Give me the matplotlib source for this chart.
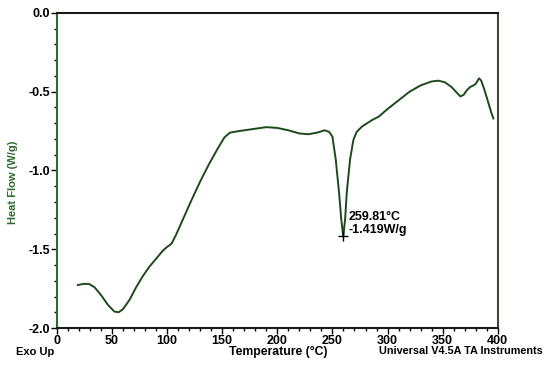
import numpy as np
import matplotlib.pyplot as plt
from matplotlib.ticker import MultipleLocator

plt.rcParams['font.family'] = ['Liberation Sans', 'DejaVu Sans']
plt.rcParams['font.weight'] = 'bold'

# DSC curve
temp = [19, 24, 29, 34, 40, 46, 52, 56, 60, 66, 72, 78, 84, 90, 96, 100, 104,
        108, 115, 122, 130, 138, 146, 152, 157, 165, 175, 190, 200, 210, 220,
        228, 236, 243, 247, 250, 253, 256, 258, 259.81, 261.5, 263, 266, 269,
        272, 277, 286, 292, 300, 310, 320, 330, 340, 346, 352, 358, 362,
        366, 369, 372, 375, 378, 380, 383, 385, 388, 391, 394, 396]
heat_flow = [-1.727, -1.72, -1.72, -1.74, -1.79, -1.85, -1.895, -1.90, -1.88,
             -1.82, -1.74, -1.67, -1.61, -1.56, -1.51, -1.485, -1.465, -1.41,
             -1.30, -1.19, -1.07, -0.96, -0.86, -0.79, -0.76, -0.75, -0.74,
             -0.725, -0.73, -0.745, -0.765, -0.77, -0.76, -0.745, -0.755, -0.785,
             -0.93, -1.14, -1.31, -1.419, -1.31, -1.14, -0.93, -0.806,
             -0.755, -0.72, -0.68, -0.658, -0.61, -0.555, -0.50, -0.46,
             -0.435, -0.43, -0.44, -0.47, -0.50, -0.53, -0.52, -0.49, -0.47,
             -0.46, -0.45, -0.415, -0.43, -0.49, -0.56, -0.63, -0.67]

peak_t = 259.81
peak_hf = -1.419

fig = plt.figure(figsize=(5.47, 3.69), dpi=100)
ax = fig.add_axes([0.104, 0.111, 0.806, 0.854])

ax.plot(temp, heat_flow, color='#1d4a1d', lw=1.4)
ax.plot([peak_t], [peak_hf], marker='+', color='black', ms=7, mew=1)
ax.text(peak_t + 5, peak_hf + 0.005, f'{peak_t}°C\n{peak_hf}W/g',
        fontsize=9, fontweight='bold', va='bottom', ha='left', linespacing=1.05)

ax.set_xlim(0, 400)
ax.set_ylim(-2.0, 0.0)
ax.xaxis.set_major_locator(MultipleLocator(50))
ax.xaxis.set_minor_locator(MultipleLocator(10))
ax.yaxis.set_major_locator(MultipleLocator(0.5))
ax.yaxis.set_minor_locator(MultipleLocator(0.1))
ax.yaxis.set_major_formatter(plt.FormatStrFormatter('%.1f'))
ax.tick_params(which='major', direction='out', length=4, width=1, labelsize=9, pad=1)
ax.tick_params(which='minor', direction='out', length=2, width=1)

ax.spines['left'].set_color('#2e6b2e')
ax.spines['right'].set_color('#3b4a3b')
ax.spines['top'].set_color('#1a1a1a')
ax.spines['bottom'].set_color('#1a1a1a')
for s in ax.spines.values():
    s.set_linewidth(1.5)

ax.set_ylabel('Heat Flow (W/g)', color='#2e6b2e', fontsize=8, fontweight='bold')
ax.yaxis.set_label_coords(-0.088, 0.463)
fig.text(0.508, 0.045, 'Temperature (°C)', ha='center', va='center', fontsize=8.8, fontweight='bold')
fig.text(0.03, 0.045, 'Exo Up', ha='left', va='center', fontsize=8, fontweight='bold')
fig.text(0.993, 0.05, 'Universal V4.5A TA Instruments', ha='right', va='center', fontsize=7.8, fontweight='bold')

fig.savefig('out.png', dpi=100)
